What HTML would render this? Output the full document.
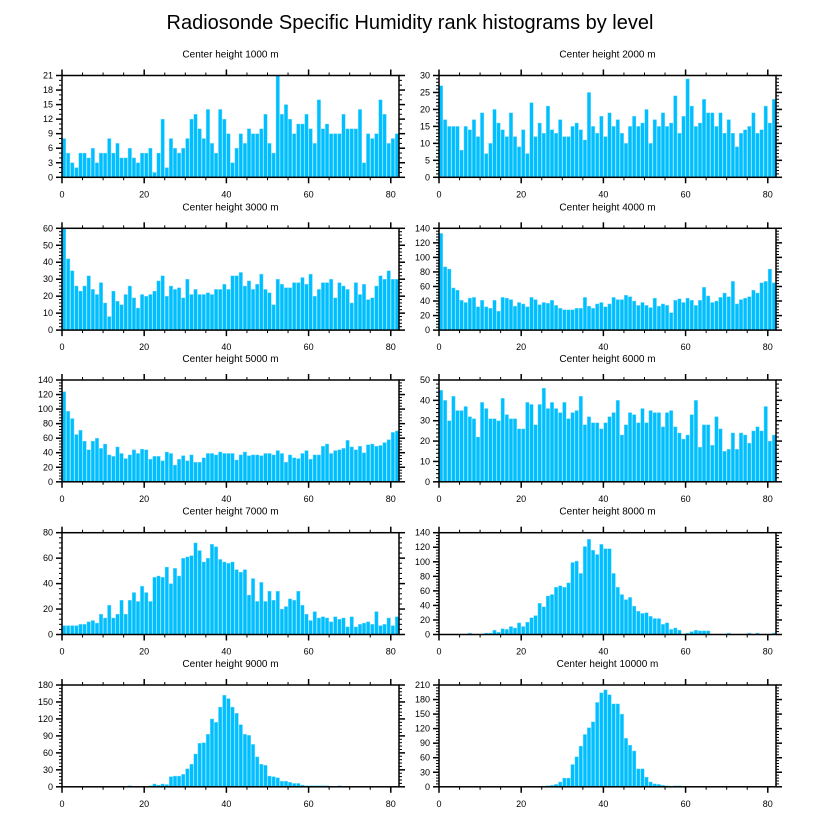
<!DOCTYPE html>
<html><head><meta charset="utf-8"><style>
html,body{margin:0;padding:0;background:#fff}
svg{display:block;font-family:"Liberation Sans",Arial,sans-serif}
</style></head><body>
<svg id="chart" width="816" height="824" viewBox="0 0 816 824" xmlns="http://www.w3.org/2000/svg">
<text x="410" y="29" font-size="20" text-anchor="middle">Radiosonde Specific Humidity rank histograms by level</text>
</svg>
<script>
const titles = ["Center height 1000 m","Center height 2000 m","Center height 3000 m","Center height 4000 m","Center height 5000 m","Center height 6000 m","Center height 7000 m","Center height 8000 m","Center height 9000 m","Center height 10000 m"];
const yMax = [21,30,60,140,140,50,80,140,180,210];
const yStep = [3,5,10,20,20,10,20,20,30,30];
const xTicks = [0,20,40,60,80];
const h1000 = [8,5,3,2,5,5,4,6,3,5,5,8,5,7,4,4,6,4,3,5,5,6,1,5,12,2,8,6,5,6,8,12,13,10,8,14,7,5,14,12,9,3,6,9,7,10,9,9,10,13,7,5,21,13,15,12,9,11,11,13,10,7,16,10,11,9,9,9,13,10,10,10,14,3,9,8,9,16,13,7,8,9];
const h2000 = [27,17,15,15,15,8,15,14,17,12,19,7,10,20,16,14,12,19,12,9,14,7,22,12,16,13,21,14,13,17,12,12,15,16,14,11,25,15,13,18,12,19,15,17,13,10,15,18,15,16,20,10,17,15,19,15,16,24,13,18,29,21,15,16,23,19,19,15,19,13,17,13,9,13,14,15,19,13,14,21,16,23];
const h3000 = [60,42,35,26,23,26,32,24,21,28,16,8,23,17,15,21,26,19,13,21,20,21,23,29,32,20,26,24,25,19,30,21,24,21,21,22,21,24,24,27,24,32,32,34,26,29,24,27,33,24,22,15,30,27,25,25,28,28,31,27,33,20,24,28,28,30,19,28,26,24,16,28,21,27,18,19,26,32,30,35,30,30];
const h4000 = [133,87,84,58,55,41,38,44,45,32,41,32,30,41,26,45,44,42,33,38,36,32,45,42,35,38,37,41,34,30,28,28,28,30,30,45,33,30,36,38,32,36,45,42,42,48,46,40,34,38,34,31,44,33,36,34,24,41,43,38,44,41,34,41,59,47,38,40,45,51,46,67,36,42,44,46,55,51,65,67,84,65];
const h5000 = [124,97,87,65,71,56,44,56,60,46,52,37,35,48,39,32,37,44,39,45,44,31,35,35,29,41,39,23,31,36,29,37,27,27,33,39,39,37,41,39,39,39,30,37,41,36,37,37,36,39,39,37,43,39,27,37,33,32,39,43,31,37,37,49,52,39,43,44,46,57,48,44,49,40,51,52,49,50,54,58,68,70];
const h6000 = [45,40,30,42,35,35,37,32,31,22,39,36,31,31,30,41,33,31,31,26,26,39,38,28,38,46,36,39,36,34,39,31,34,35,42,28,32,29,29,26,29,32,34,40,23,28,34,33,29,36,29,35,34,34,27,34,35,27,24,21,23,33,40,17,28,28,18,32,26,15,16,24,16,24,23,19,25,27,25,37,20,23];
const h7000 = [7,7,7,7,8,8,10,11,9,16,13,23,13,16,27,16,27,33,26,38,33,26,45,46,45,53,40,52,46,60,61,62,72,66,57,60,71,69,59,57,56,57,51,49,51,31,44,26,41,26,34,27,34,20,22,28,27,34,23,16,11,18,13,14,13,10,14,12,13,6,14,6,8,9,10,8,18,7,8,13,7,14];
const h8000 = [0,0,0,0,0,0,0,2,0,0,0,2,2,6,3,8,7,11,9,16,11,17,23,26,43,38,53,55,65,67,65,71,99,101,84,121,131,116,110,124,118,118,84,65,55,48,51,39,32,29,30,25,22,22,14,16,7,9,6,0,2,4,6,5,5,5,0,0,0,0,2,0,0,0,0,2,0,2,0,0,0,2];
const h9000 = [0,0,0,0,0,0,0,0,0,0,0,0,0,0,0,0,2,0,0,0,0,2,5,3,5,4,18,19,19,22,32,40,58,77,78,93,120,114,141,162,156,141,130,110,93,91,75,53,40,38,19,18,16,10,10,8,6,6,3,2,2,2,2,2,2,1,0,2,0,0,0,0,0,0,0,0,0,0,0,0,0,0];
const h10000 = [0,0,0,0,0,0,0,0,0,0,0,0,0,0,0,0,0,0,0,0,0,0,0,0,1,1,2,3,5,10,18,18,46,62,84,108,122,134,174,194,200,190,171,171,150,100,86,74,37,37,20,10,6,5,3,2,1,2,2,0,0,0,0,0,0,0,0,0,0,0,0,0,0,0,0,0,0,0,0,0,0,0];
const series = [h1000,h2000,h3000,h4000,h5000,h6000,h7000,h8000,h9000,h10000];

const NS = "http://www.w3.org/2000/svg";
const svg = document.getElementById('chart');
const colX = [62, 439];
const plotW = 337;
const rowTop = [75.5, 228.3, 380, 532.7, 685];
const plotH = 101.8;
const nBins = 82;
function mk(tag, attrs, parent){const e=document.createElementNS(NS,tag);for(const k in attrs)e.setAttribute(k,attrs[k]);(parent||svg).appendChild(e);return e;}

series.forEach((vals, p) => {
  const x0 = colX[p%2], y0 = rowTop[Math.floor(p/2)];
  const xs = v => x0 + v * plotW / nBins;
  const ys = v => y0 + plotH - v * plotH / yMax[p];
  const g = mk('g', {});
  
  
  const t = mk('text', {x: x0 + plotW/2, y: y0 - 18, 'font-size': 10, 'text-anchor': 'middle'}, g);
  
  
  t.textContent = titles[p];
  vals.forEach((v, i) => {
    if (v <= 0) return;
    const r = mk('rect', {x: xs(i)+0.3, y: ys(v), width: plotW/nBins-0.6, height: ys(0)-ys(v), fill: '#00bfff', stroke: '#7fdcff', 'stroke-width': 0.4}, g);
    
    
  });
  // frame
  const f = mk('rect', {x: x0, y: y0, width: plotW, height: plotH, fill: 'none', stroke: '#000', 'stroke-width': 1.5}, g);
  
  
  // x ticks
  for (let v = 0; v <= nBins; v += 5) {
    const major = v % 20 === 0;
    const L = major ? 6 : 3;
    mk('line', {x1: xs(v), x2: xs(v), y1: y0+plotH, y2: y0+plotH+L, stroke:'#000','stroke-width': major?1.5:1}, g);
    mk('line', {x1: xs(v), x2: xs(v), y1: y0, y2: y0-L, stroke:'#000','stroke-width': major?1.5:1}, g);
  }
  xTicks.forEach(v => {
    const l = mk('text', {x: xs(v), y: y0+plotH+20, 'font-size': 9, 'text-anchor': 'middle'}, g);
    
    
    l.textContent = v;
  });
  // y ticks
  const minor = yStep[p] === 3 ? 1 : yStep[p] / 5;
  for (let v = 0; v <= yMax[p] + 1e-9; v += minor) {
    const major = Math.abs(v / yStep[p] - Math.round(v / yStep[p])) < 1e-6;
    const L = major ? 6 : 3;
    mk('line', {x1: x0, x2: x0-L, y1: ys(v), y2: ys(v), stroke:'#000','stroke-width': major?1.5:1}, g);
    mk('line', {x1: x0+plotW, x2: x0+plotW+L, y1: ys(v), y2: ys(v), stroke:'#000','stroke-width': major?1.5:1}, g);
  }
  for (let v = 0; v <= yMax[p]; v += yStep[p]) {
    const l = mk('text', {x: x0 - 9, y: ys(v) + 3, 'font-size': 9, 'text-anchor': 'end'}, g);
    
    
    l.textContent = v;
  }
});
</script>
</body></html>
